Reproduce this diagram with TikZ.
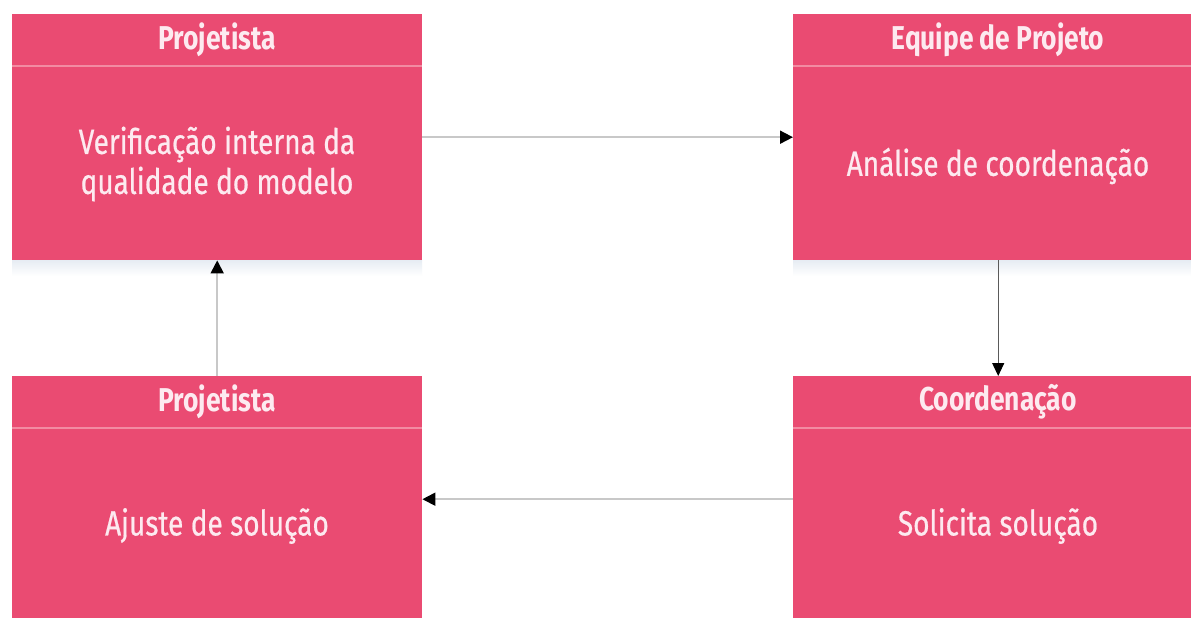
\documentclass[tikz,border=0pt]{standalone}
\usepackage{fontspec}
\setmainfont{Fira Sans}
\newfontfamily\boxfont[FakeStretch=0.8]{Fira Sans}
\newfontfamily\bodyfont[FakeStretch=0.8, FakeBold=0.6]{Fira Sans}
\usetikzlibrary{arrows.meta}
\definecolor{boxpink}{HTML}{EA4B72}
\definecolor{seppink}{HTML}{F28BA2}
\definecolor{txtpink}{HTML}{FDEAF0}
\definecolor{lightline}{HTML}{C8C8C8}
\definecolor{darkline}{HTML}{5A5A5A}
\definecolor{shadowc}{HTML}{E6ECF3}
\tikzset{
  card/.style={fill=boxpink, draw=none, minimum width=410pt, minimum height=246pt, anchor=north west, inner sep=0pt},
  cardtitle/.style={text=txtpink, font=\boxfont\bfseries\fontsize{33}{38}\selectfont, inner sep=0pt},
  cardbody/.style={text=txtpink, font=\bodyfont\fontsize{35}{40}\selectfont, align=center, inner sep=0pt},
  sepline/.style={draw=seppink, line width=1.2pt},
  flowlight/.style={draw=lightline, line width=1.8pt, -{Triangle[length=13pt, width=13pt, color=black]}},
  flowdark/.style={draw=darkline, line width=1.1pt, -{Triangle[length=13pt, width=12pt, color=black]}}
}
\begin{document}
\begin{tikzpicture}[x=1pt, y=-1pt]
\useasboundingbox (0,0) rectangle (1191,618);
\fill[white] (0,0) rectangle (1191,618);
\begin{scope}
\clip (0,0) rectangle (1191,618);
% soft shadows under top cards
\shade[top color=shadowc, bottom color=white] (12,260) rectangle (422,276);
\shade[top color=shadowc, bottom color=white] (793,260) rectangle (1203,276);
% cards
\node[card] (A) at (12,14) {};
\node[card] (B) at (793,14) {};
\node[card] (C) at (793,376) {};
\node[card] (D) at (12,376) {};
% separators
\draw[sepline] ([yshift=-52pt]A.north west) coordinate (a1) -- ([yshift=-52pt]A.north east) coordinate (a2);
\draw[sepline] ([yshift=-52pt]B.north west) coordinate (b1) -- ([yshift=-52pt]B.north east) coordinate (b2);
\draw[sepline] ([yshift=-52pt]C.north west) coordinate (c1) -- ([yshift=-52pt]C.north east) coordinate (c2);
\draw[sepline] ([yshift=-52pt]D.north west) coordinate (d1) -- ([yshift=-52pt]D.north east) coordinate (d2);
% titles
\node[cardtitle] (At) at (217,40) {Projetista};
\node[cardtitle] (Bt) at (998,40) {Equipe de Projeto};
\node[cardtitle] (Ct) at (998,402) {Coordenação};
\node[cardtitle] (Dt) at (217,402) {Projetista};
% bodies
\node[cardbody] (Ab) at (217,164) {Verificação interna da\\qualidade do modelo};
\node[cardbody] (Bb) at (998,166) {Análise de coordenação};
\node[cardbody] (Cb) at (998,526) {Solicita solução};
\node[cardbody] (Db) at (217,526) {Ajuste de solução};
% connectors
\draw[flowlight] (A.east) -- (B.west);
\draw[flowdark] (B.south) -- (C.north);
\draw[flowlight] (C.west) -- (D.east);
\draw[flowlight] (D.north) -- (A.south);
\end{scope}
\end{tikzpicture}
\end{document}
